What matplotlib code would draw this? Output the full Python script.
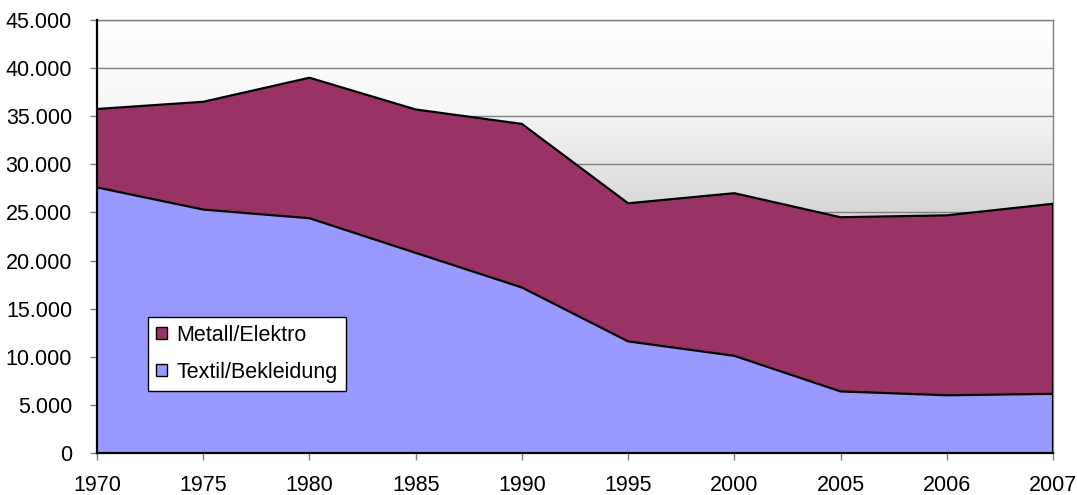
import matplotlib.pyplot as plt
import numpy as np
from matplotlib.patches import Patch
from matplotlib.colors import LinearSegmentedColormap

plt.rcParams['font.family'] = ['Liberation Sans', 'DejaVu Sans']

# data
years = ['1970', '1975', '1980', '1985', '1990', '1995', '2000', '2005', '2006', '2007']
textil = [27600, 25300, 24400, 20800, 17200, 11600, 10100, 6400, 6000, 6150]
metall = [8150, 11200, 14600, 14900, 17000, 14350, 16900, 18100, 18700, 19750]

c_metall = '#993366'
c_textil = '#9999ff'

fig = plt.figure(figsize=(10.77, 4.95), dpi=100)
ax = fig.add_axes([97 / 1077, 42 / 495, 956 / 1077, 433 / 495])

# grey gradient background of the plot area
grad = LinearSegmentedColormap.from_list('bg', [(0, '#ffffff'), (0.2, '#f7f7f7'), (0.45, '#d6d6d6'), (1, '#a8a8a8')])
ax.imshow(np.linspace(0, 1, 256).reshape(-1, 1), cmap=grad, aspect='auto',
          extent=[0, 1, 0, 1], transform=ax.transAxes, zorder=0)

x = np.arange(len(years))
top = np.array(textil) + np.array(metall)
ax.fill_between(x, 0, textil, facecolor=c_textil, edgecolor='none', zorder=2)
ax.fill_between(x, textil, top, facecolor=c_metall, edgecolor='none', zorder=2)
ax.plot(x, textil, color='black', lw=1.6, zorder=3)
ax.plot(x, top, color='black', lw=1.6, zorder=3)
ax.plot([x[-1], x[-1]], [0, top[-1]], color='black', lw=1.6, zorder=3)

ax.set_xlim(0, len(years) - 1)
ax.set_ylim(0, 45000)
ax.set_xticks(x)
ax.set_xticklabels(years)
yt = np.arange(0, 45001, 5000)
ax.set_yticks(yt)
ax.set_yticklabels(['{:,}'.format(v).replace(',', '.') for v in yt])
ax.tick_params(labelsize=15.5, length=5, width=1, color='#808080')
ax.tick_params(axis='y', pad=13)
ax.tick_params(axis='x', pad=11)

ax.set_axisbelow(True)
ax.grid(axis='y', color='#808080', lw=1)
for s in ['left', 'bottom']:
    ax.spines[s].set_color('black')
    ax.spines[s].set_linewidth(1.6)
    ax.spines[s].set_zorder(4)
for s in ['top', 'right']:
    ax.spines[s].set_color('#808080')
    ax.spines[s].set_linewidth(1)

handles = [Patch(facecolor=c_metall, edgecolor='black', lw=1),
           Patch(facecolor=c_textil, edgecolor='black', lw=1)]
leg = ax.legend(handles, ['Metall/Elektro', 'Textil/Bekleidung'],
                loc='lower left', bbox_to_anchor=(0.053, 0.143), borderaxespad=0,
                fontsize=15.5, handlelength=0.5, handleheight=0.5, handletextpad=0.45,
                labelspacing=0.75, borderpad=0.38, fancybox=False, framealpha=1,
                edgecolor='black')
leg.get_frame().set_linewidth(1)
leg.set_zorder(5)

fig.savefig('out.png', dpi=100)
